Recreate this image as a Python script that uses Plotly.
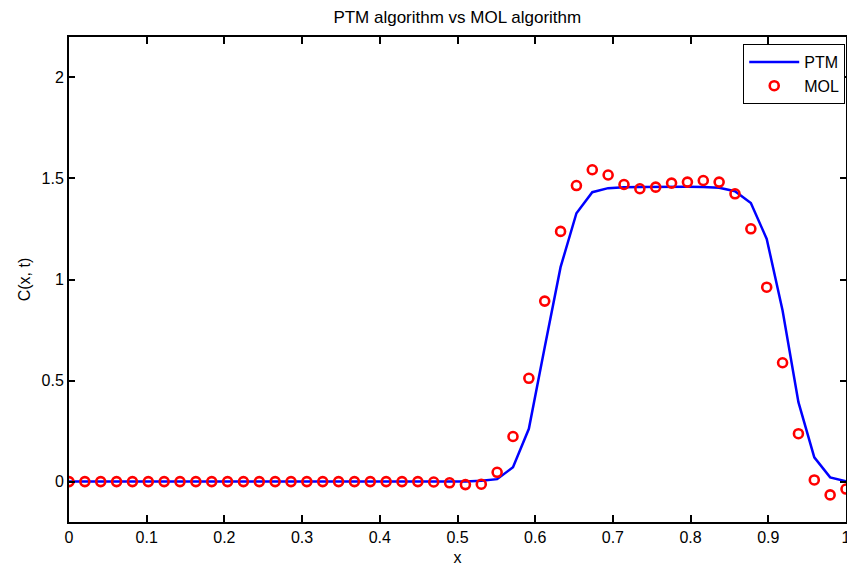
import plotly.graph_objects as go

# grid: 50 points x = k/49
n_pts = 50
x_vals = [k / 49 for k in range(n_pts)]

ptm_vals = [0.0] * 26 + [
    0.004, 0.012, 0.071, 0.261, 0.665, 1.061, 1.328, 1.432, 1.452, 1.457,
    1.458, 1.459, 1.459, 1.459, 1.458, 1.454, 1.437, 1.378, 1.201, 0.847,
    0.393, 0.120, 0.021, 0.002,
]

mol_vals = [0.0] * 23 + [
    -0.002, -0.006, -0.015, -0.013, 0.046, 0.223, 0.511, 0.893, 1.238, 1.465,
    1.543, 1.517, 1.470, 1.449, 1.457, 1.477, 1.482, 1.490, 1.482, 1.424,
    1.251, 0.962, 0.588, 0.237, 0.008, -0.066, -0.037,
]

x_ticks = [0, 0.1, 0.2, 0.3, 0.4, 0.5, 0.6, 0.7, 0.8, 0.9, 1]
y_ticks = [0, 0.5, 1, 1.5, 2]

font_family = "Liberation Sans, Arial, sans-serif"

fig = go.Figure()
fig.add_trace(go.Scatter(
    x=x_vals, y=ptm_vals, mode="lines", name="PTM",
    line=dict(color="#0000ff", width=2.5),
))
fig.add_trace(go.Scatter(
    x=x_vals, y=mol_vals, mode="markers", name="MOL",
    marker=dict(symbol="circle-open", size=9, color="#ff0000",
                line=dict(color="#ff0000", width=2.6)),
))

axis_common = dict(
    showline=True, linecolor="black", linewidth=2, mirror="ticks",
    ticks="inside", tickwidth=2, tickcolor="black",
    showgrid=False, zeroline=False, automargin=False,
    tickfont=dict(family=font_family, size=16, color="black"),
    ticklabeloverflow="allow",
)

fig.update_xaxes(
    range=[0, 1], tickvals=x_ticks, ticktext=[f"{t:g}" for t in x_ticks],
    ticklen=7,
    title=dict(text="x", font=dict(family=font_family, size=16, color="black"), standoff=7),
    **axis_common,
)
fig.update_yaxes(
    range=[-0.2, 2.2], tickvals=y_ticks, ticktext=[f"{t:g}" for t in y_ticks],
    ticklen=6,
    title=dict(text="C(x, t)", font=dict(family=font_family, size=16, color="black"), standoff=7),
    **axis_common,
)

fig.update_layout(
    width=847, height=567,
    margin=dict(l=69, r=1, t=37, b=45),
    paper_bgcolor="white", plot_bgcolor="white",
    title=dict(text="PTM algorithm vs MOL algorithm", x=0.5399, xanchor="center",
               y=1 - 17 / 567, yanchor="middle",
               font=dict(family=font_family, size=17, color="black")),
    legend=dict(
        x=0.999, xanchor="right", y=0.9856, yanchor="top",
        bgcolor="white", bordercolor="black", borderwidth=1,
        font=dict(family=font_family, size=16, color="black"),
        itemwidth=50, tracegroupgap=0,
    ),
    showlegend=True,
)

fig.write_html("out.html")
